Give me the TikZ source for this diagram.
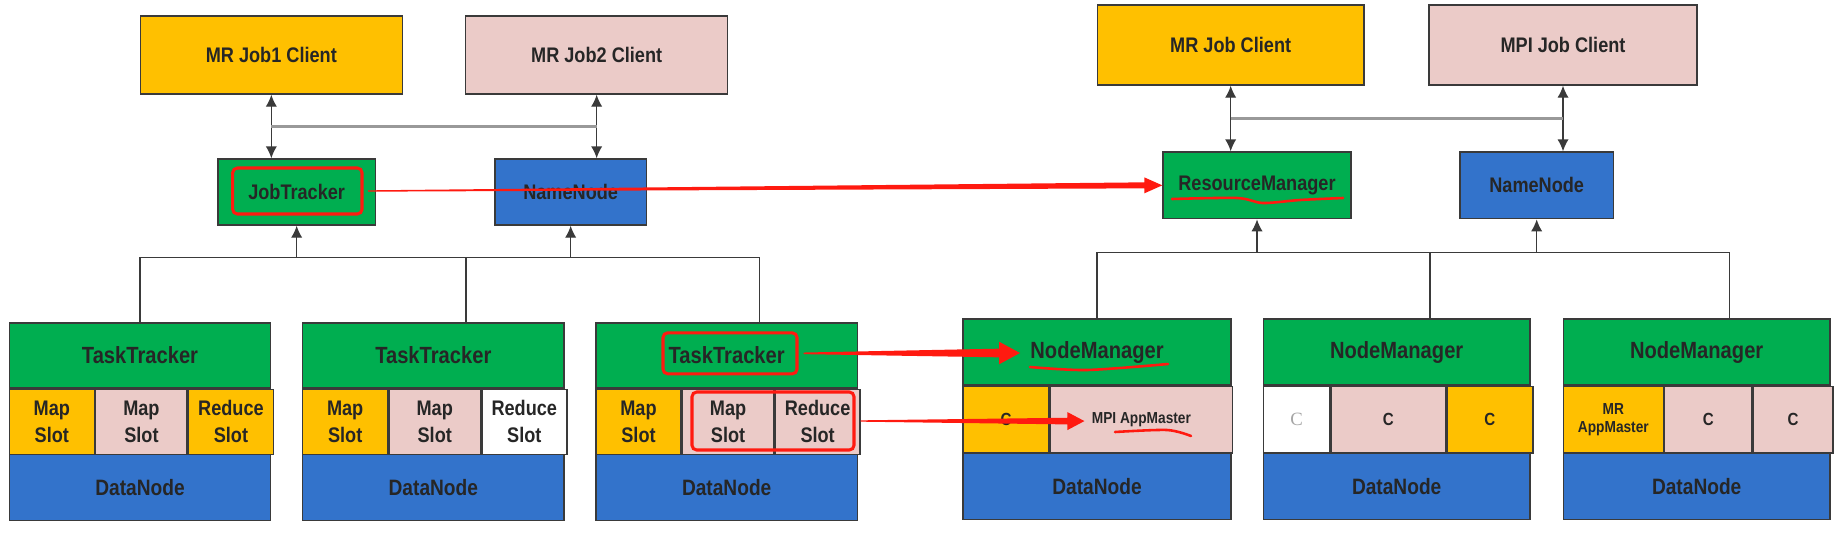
\documentclass[tikz,border=0pt]{standalone}
\usepackage{fontspec}
\setmainfont{Liberation Sans}[FakeStretch=0.86]
\newfontfamily\serifC{Liberation Serif}
\usepackage{tikz}
\usetikzlibrary{positioning, calc, arrows.meta}

\definecolor{hyellow}{HTML}{FFC000}
\definecolor{hpink}{HTML}{EBCBC8}
\definecolor{hgreen}{HTML}{00AE50}
\definecolor{hblue}{HTML}{3373CB}
\definecolor{hred}{HTML}{FF1A10}
\definecolor{boxline}{HTML}{3A3A3A}

\begin{document}
\begin{tikzpicture}[
font=\bfseries,
box/.style={rectangle, draw=boxline, line width=0.6pt, inner sep=1pt, align=center, text=black!85},
client/.style={box, minimum width=3.93cm, minimum height=1.17cm, font=\bfseries\fontsize{9}{11}\selectfont},
master/.style={box, minimum height=0.99cm, font=\bfseries\fontsize{9}{11}\selectfont},
tracker/.style={box, fill=hgreen, minimum width=3.92cm, minimum height=0.975cm, font=\bfseries\fontsize{10}{12}\selectfont},
slot/.style={box, minimum height=0.975cm, font=\bfseries\fontsize{9}{11.5}\selectfont},
cont/.style={box, minimum height=1cm, font=\bfseries\fontsize{7.5}{9}\selectfont},
datanode/.style={box, fill=hblue, minimum width=3.92cm, minimum height=0.99cm, font=\bfseries\fontsize{9.5}{11}\selectfont},
redmark/.style={draw=hred, line width=1.3pt, rounded corners=2pt, inner sep=0pt},
link/.style={draw=boxline, line width=0.6pt},
updown/.style={link, {Latex[length=0.18cm,width=0.17cm]}-{Latex[length=0.18cm,width=0.17cm]}},
upto/.style={link, -{Latex[length=0.18cm,width=0.17cm]}},
bus/.style={draw=gray!80, line width=1.1pt},
annot/.style={fill=hred},
scrawl/.style={draw=hred, line width=1.1pt, line cap=round, line join=round}
]
\useasboundingbox (0,0) rectangle (27.69,-7.995);

% Hadoop 1: clients
\node[client, fill=hyellow] (job1) at (4.07,-0.825) {MR Job1 Client};
\node[client, fill=hpink] (job2) at (8.95,-0.825) {MR Job2 Client};

% Hadoop 1: masters
\node[master, fill=hgreen, minimum width=2.36cm] (jt) at (4.45,-2.88) {JobTracker};
\node[master, fill=hblue, minimum width=2.27cm] (nnl) at (8.56,-2.88) {NameNode};

% Hadoop 1: slaves
\node[tracker] (tt1) at (2.10,-5.33) {TaskTracker};
\node[slot, fill=hyellow, minimum width=1.275cm, below right=0pt of tt1.south west] (t1a) {Map\\Slot};
\node[slot, fill=hpink, minimum width=1.37cm, right=0pt of t1a] (t1b) {Map\\Slot};
\node[slot, fill=hyellow, minimum width=1.275cm, right=0pt of t1b] (t1c) {Reduce\\Slot};
\node[datanode, below=0.975cm of tt1] (d1) {DataNode};

\node[tracker] (tt2) at (6.50,-5.33) {TaskTracker};
\node[slot, fill=hyellow, minimum width=1.275cm, below right=0pt of tt2.south west] (t2a) {Map\\Slot};
\node[slot, fill=hpink, minimum width=1.37cm, right=0pt of t2a] (t2b) {Map\\Slot};
\node[slot, fill=white, minimum width=1.275cm, right=0pt of t2b] (t2c) {Reduce\\Slot};
\node[datanode, below=0.975cm of tt2] (d2) {DataNode};

\node[tracker] (tt3) at (10.90,-5.33) {TaskTracker};
\node[slot, fill=hyellow, minimum width=1.275cm, below right=0pt of tt3.south west] (t3a) {Map\\Slot};
\node[slot, fill=hpink, minimum width=1.37cm, right=0pt of t3a] (t3b) {Map\\Slot};
\node[slot, fill=hpink, minimum width=1.275cm, right=0pt of t3b] (t3c) {Reduce\\Slot};
\node[datanode, below=0.975cm of tt3] (d3) {DataNode};

% YARN: clients
\node[client, fill=hyellow, minimum width=4cm, minimum height=1.2cm] (mrc) at (18.46,-0.675) {MR Job Client};
\node[client, fill=hpink, minimum width=4.02cm, minimum height=1.2cm] (mpic) at (23.445,-0.675) {MPI Job Client};

% YARN: masters
\node[master, fill=hgreen, minimum width=2.82cm, minimum height=1cm] (rm) at (18.855,-2.78) {ResourceManager};
\node[master, fill=hblue, minimum width=2.3cm, minimum height=1cm] (nnr) at (23.05,-2.78) {NameNode};

% YARN: slaves
\node[tracker, minimum width=4.02cm, minimum height=0.99cm] (nm1) at (16.455,-5.28) {NodeManager};
\node[cont, fill=hyellow, minimum width=1.29cm, below right=0pt of nm1.south west] (n1a) {C};
\node[cont, fill=hpink, minimum width=2.73cm, right=0pt of n1a, font=\bfseries\fontsize{6.8}{8}\selectfont] (n1b) {MPI AppMaster};
\node[datanode, minimum width=4.02cm, minimum height=1cm, below=1cm of nm1] (d4) {DataNode};

\node[tracker, minimum width=4cm, minimum height=0.99cm] (nm2) at (20.95,-5.28) {NodeManager};
\node[cont, fill=white, text=gray!70, minimum width=1cm, below right=0pt of nm2.south west, font=\serifC\fontsize{8}{9}\selectfont] (n2a) {C};
\node[cont, fill=hpink, minimum width=1.71cm, right=0pt of n2a] (n2b) {C};
\node[cont, fill=hyellow, minimum width=1.29cm, right=0pt of n2b] (n2c) {C};
\node[datanode, minimum width=4cm, minimum height=1cm, below=1cm of nm2] (d5) {DataNode};

\node[tracker, minimum width=4cm, minimum height=0.99cm] (nm3) at (25.45,-5.28) {NodeManager};
\node[cont, fill=hyellow, minimum width=1.5cm, below right=0pt of nm3.south west, font=\bfseries\fontsize{6.8}{8}\selectfont] (n3a) {MR\\AppMaster};
\node[cont, fill=hpink, minimum width=1.305cm, right=0pt of n3a] (n3b) {C};
\node[cont, fill=hpink, minimum width=1.2cm, right=0pt of n3b] (n3c) {C};
\node[datanode, minimum width=4cm, minimum height=1cm, below=1cm of nm3] (d6) {DataNode};

% Hadoop 1: links
\draw[updown] (job1.south) -- (job1.south |- jt.north);
\draw[updown] (job2.south) -- (job2.south |- nnl.north);
\draw[bus] ($(job1.south)!0.5!(job1.south |- jt.north)$) -- ($(job2.south)!0.5!(job2.south |- nnl.north)$);
\coordinate (lbus) at ($(jt.south)+(0,-0.48)$);
\coordinate (tt2top) at ($(tt2.north)+(0.49,0)$);
\coordinate (tt3top) at ($(tt3.north)+(0.495,0)$);
\draw[link] (tt1.north) -- (tt1.north |- lbus) -- (tt3top |- lbus) -- (tt3top);
\draw[link] (tt2top) -- (tt2top |- lbus);
\draw[upto] (jt.south |- lbus) -- (jt.south);
\draw[upto] (nnl.south |- lbus) -- (nnl.south);

% YARN: links
\draw[updown] (mrc.south) -- (mrc.south |- rm.north);
\draw[updown] (mpic.south) -- (mpic.south |- nnr.north);
\draw[bus] ($(mrc.south)!0.5!(mrc.south |- rm.north)$) -- ($(mpic.south)!0.5!(mpic.south |- nnr.north)$);
\coordinate (rbus) at ($(rm.south)+(0,-0.495)$);
\coordinate (nm2top) at ($(nm2.north)+(0.5,0)$);
\coordinate (nm3top) at ($(nm3.north)+(0.49,0)$);
\draw[link] (nm1.north) -- (nm1.north |- rbus) -- (nm3top |- rbus) -- (nm3top);
\draw[link] (nm2top) -- (nm2top |- rbus);
\draw[upto] (rm.south |- rbus) -- (rm.south);
\draw[upto] (nnr.south |- rbus) -- (nnr.south);

% Red marks
\node[redmark, minimum width=1.94cm, minimum height=0.69cm] (jtmark) at (4.46,-2.865) {};
\node[redmark, minimum width=2.01cm, minimum height=0.615cm] (ttmark) at (10.95,-5.30) {};
\node[redmark, minimum width=2.43cm, minimum height=0.87cm] (slotmark) at (11.595,-6.315) {};
\coordinate (nmtip) at ($(nm1)+(-1.155,-0.015)$);
\coordinate (amtip) at ($(n1b)+(-0.855,-0.02)$);

\fill[annot] ($(jtmark.east)+(0.07,0.01)$) -- ($(rm.west)+(-0.27,0.045)$) -- ($(rm.west)+(-0.27,0.12)$) -- (rm.west)
  -- ($(rm.west)+(-0.27,-0.12)$) -- ($(rm.west)+(-0.27,-0.045)$) -- ($(jtmark.east)+(0.07,-0.01)$) -- cycle;
\fill[annot] ($(ttmark.east)+(0.075,0.012)$) -- ($(nmtip)+(-0.315,0.065)$) -- ($(nmtip)+(-0.315,0.17)$) -- (nmtip)
  -- ($(nmtip)+(-0.315,-0.17)$) -- ($(nmtip)+(-0.315,-0.065)$) -- ($(ttmark.east)+(0.075,-0.012)$) -- cycle;
\fill[annot] ($(slotmark.east)+(0.075,0.01)$) -- ($(amtip)+(-0.255,0.05)$) -- ($(amtip)+(-0.255,0.135)$) -- (amtip)
  -- ($(amtip)+(-0.255,-0.135)$) -- ($(amtip)+(-0.255,-0.05)$) -- ($(slotmark.east)+(0.075,-0.01)$) -- cycle;

% underlines
\draw[scrawl] plot[smooth] coordinates {(17.58,-2.985) (18.555,-2.97) (18.945,-3.045) (19.5,-3.0) (20.145,-2.97)};
\draw[scrawl] plot[smooth] coordinates {(15.45,-5.505) (16.305,-5.55) (17.52,-5.46)};
\draw[scrawl] plot[smooth] coordinates {(16.725,-6.48) (17.505,-6.45) (17.865,-6.54)};
\end{tikzpicture}
\end{document}
